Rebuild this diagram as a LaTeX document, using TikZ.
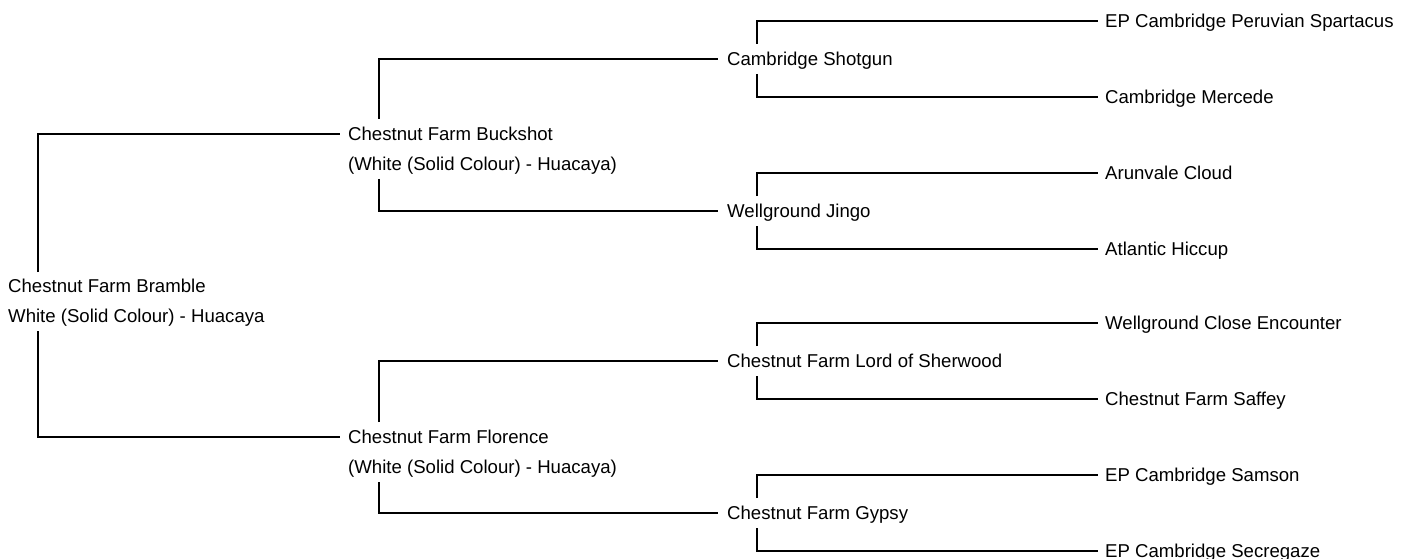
\documentclass[tikz,border=0pt]{standalone}
\usepackage{fontspec}
\setmainfont{Liberation Sans}
\usetikzlibrary{calc}
\begin{document}
\begin{tikzpicture}[x=1pt,y=-1pt,
  pname/.style={inner sep=0pt, anchor=west, text height=13.4pt, text depth=0pt, font=\fontsize{18.6}{22}\selectfont},
  link/.style={line width=1.2pt, line cap=butt}]
\useasboundingbox (0,0) rectangle (1406,559);
% root
\node[pname] (r) at (8,286) {Chestnut Farm Bramble};
\node[pname] (rs) at (8,316) {White (Solid Colour) - Huacaya};
% generation 1
\node[pname] (s) at (348,134) {Chestnut Farm Buckshot};
\node[pname] (sx) at (348,164) {(White (Solid Colour) - Huacaya)};
\node[pname] (d) at (348,437) {Chestnut Farm Florence};
\node[pname] (dx) at (348,467) {(White (Solid Colour) - Huacaya)};
% generation 2
\node[pname] (ss) at (727,59) {Cambridge Shotgun};
\node[pname] (sd) at (727,211) {Wellground Jingo};
\node[pname] (ds) at (727,361) {Chestnut Farm Lord of Sherwood};
\node[pname] (dd) at (727,513) {Chestnut Farm Gypsy};
% generation 3
\node[pname] (sss) at (1105,21) {EP Cambridge Peruvian Spartacus};
\node[pname] (ssd) at (1105,97) {Cambridge Mercede};
\node[pname] (sds) at (1105,173) {Arunvale Cloud};
\node[pname] (sdd) at (1105,249) {Atlantic Hiccup};
\node[pname] (dss) at (1105,323) {Wellground Close Encounter};
\node[pname] (dsd) at (1105,399) {Chestnut Farm Saffey};
\node[pname] (dds) at (1105,475) {EP Cambridge Samson};
\node[pname] (ddd) at (1105,551) {EP Cambridge Secregaze};
% connectors
\draw[link] ($(r.west)+(30,-14)$) |- ([xshift=-8pt]s.west);
\draw[link] ($(rs.west)+(30,15)$) |- ([xshift=-8pt]d.west);
\draw[link] ($(s.west)+(31,-15)$) |- ([xshift=-9pt]ss.west);
\draw[link] ($(sx.west)+(31,15)$) |- ([xshift=-9pt]sd.west);
\draw[link] ($(d.west)+(31,-15)$) |- ([xshift=-9pt]ds.west);
\draw[link] ($(dx.west)+(31,15)$) |- ([xshift=-9pt]dd.west);
\draw[link] ($(ss.west)+(30,-15)$) |- ([xshift=-7pt]sss.west);
\draw[link] ($(ss.west)+(30,15)$) |- ([xshift=-7pt]ssd.west);
\draw[link] ($(sd.west)+(30,-15)$) |- ([xshift=-7pt]sds.west);
\draw[link] ($(sd.west)+(30,15)$) |- ([xshift=-7pt]sdd.west);
\draw[link] ($(ds.west)+(30,-15)$) |- ([xshift=-7pt]dss.west);
\draw[link] ($(ds.west)+(30,15)$) |- ([xshift=-7pt]dsd.west);
\draw[link] ($(dd.west)+(30,-15)$) |- ([xshift=-7pt]dds.west);
\draw[link] ($(dd.west)+(30,15)$) |- ([xshift=-7pt]ddd.west);
\end{tikzpicture}
\end{document}
